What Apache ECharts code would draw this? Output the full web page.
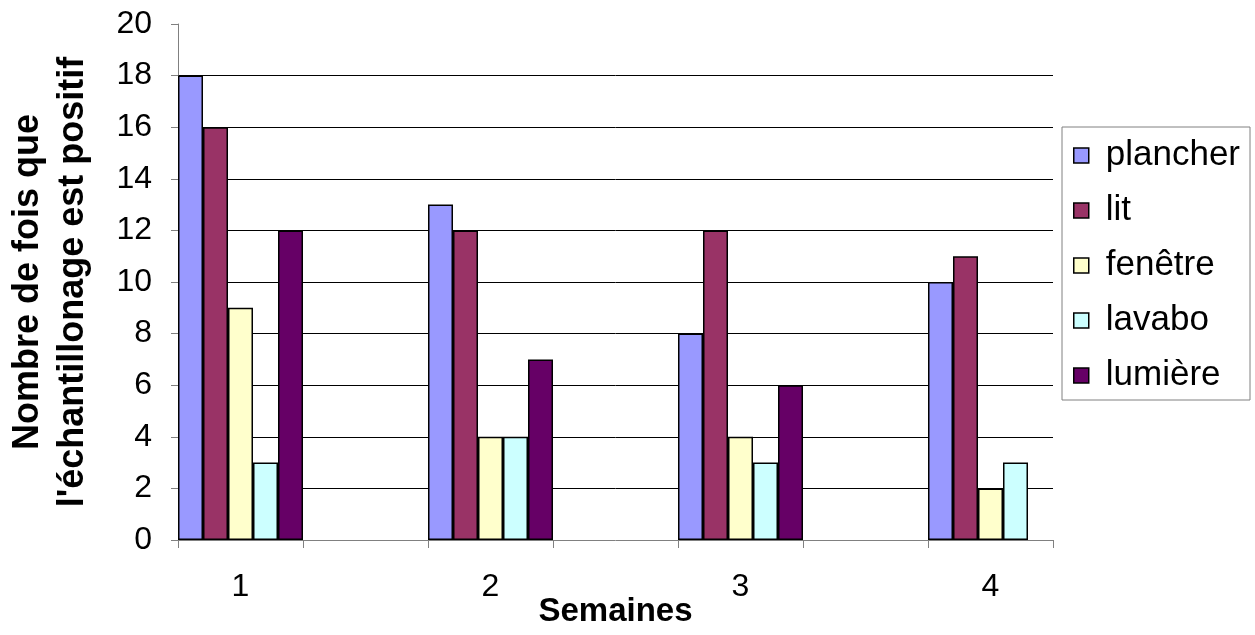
<!DOCTYPE html>
<html>
<head>
<meta charset="utf-8">
<script src="https://cdn.jsdelivr.net/npm/echarts@6/dist/echarts.min.js"></script>
<style>
    html, body { margin: 0; padding: 0; background: #fff; }
    #chart_content { width: 1255px; height: 635px; }
</style>
</head>
<body>
<div id="chart_content"></div>
<script>
// semaines (une case vide entre chaque semaine dans le graphique d'origine)
var weeks = ['1', '2', '3', '4'];
var series_names = ['plancher', 'lit', 'fenêtre', 'lavabo', 'lumière'];
var plancher = [18, 13, 8, 10];
var lit = [16, 12, 12, 11];
var fenetre = [9, 4, 4, 2];
var lavabo = [3, 4, 3, 3];
var lumiere = [12, 7, 6, null];
var y_ticks = [0, 2, 4, 6, 8, 10, 12, 14, 16, 18, 20];
var colors = ['#9999FF', '#993366', '#FFFFCC', '#CCFFFF', '#660066'];

var FONT = '"Liberation Sans", Arial, sans-serif';

// categories: 1, '', 2, '', 3, '', 4
var categories = [];
for (var i = 0; i < weeks.length; i++) {
    if (i > 0) categories.push('');
    categories.push(weeks[i]);
}
function spread(values) {
    var out = [];
    for (var i = 0; i < values.length; i++) {
        if (i > 0) out.push(null);
        out.push(values[i]);
    }
    return out;
}

var all_values = [plancher, lit, fenetre, lavabo, lumiere];
var series = [];
for (var s = 0; s < series_names.length; s++) {
    series.push({
        name: series_names[s],
        type: 'bar',
        barGap: 0,
        barCategoryGap: 0,
        itemStyle: {
            color: colors[s],
            borderColor: '#000',
            borderWidth: 1.5
        },
        data: spread(all_values[s])
    });
}

var chart = echarts.init(document.getElementById('chart_content'));
var option = {
    animation: false,
    textStyle: { fontFamily: FONT },
    grid: {
        left: 178,
        right: 202,
        top: 24,
        bottom: 95,
        containLabel: false,
        outerBoundsMode: 'none'
    },
    legend: {
        orient: 'vertical',
        left: 1062,
        top: 127,
        padding: [11, 10, 7, 11],
        itemGap: 20,
        itemWidth: 15,
        itemHeight: 15,
        borderColor: '#808080',
        borderWidth: 1,
        icon: 'rect',
        itemStyle: { borderColor: '#000', borderWidth: 1.5 },
        textStyle: { fontFamily: FONT, fontSize: 35, color: '#000', padding: [0, 0, 0, 12] },
        data: series_names
    },
    xAxis: {
        type: 'category',
        data: categories,
        name: 'Semaines',
        nameLocation: 'middle',
        nameGap: 55,
        nameMoveOverlap: false,
        nameTextStyle: { fontFamily: FONT, fontSize: 33, fontWeight: 'bold', color: '#000' },
        axisLine: { lineStyle: { color: '#808080', width: 1 } },
        axisTick: { show: true, interval: 0, length: 8, lineStyle: { color: '#808080' } },
        axisLabel: { interval: 0, margin: 31, fontFamily: FONT, fontSize: 32, color: '#000' },
        splitLine: { show: false }
    },
    yAxis: {
        type: 'value',
        min: y_ticks[0],
        max: y_ticks[y_ticks.length - 1],
        interval: y_ticks[1] - y_ticks[0],
        name: 'Nombre de fois que\nl\'échantillonage est positif',
        nameLocation: 'middle',
        nameGap: 82,
        nameMoveOverlap: false,
        nameTextStyle: { fontFamily: FONT, fontSize: 36, fontWeight: 'bold', color: '#000', lineHeight: 45 },
        axisLine: { show: true, lineStyle: { color: '#808080', width: 1 } },
        axisTick: { show: true, length: 7, lineStyle: { color: '#808080' } },
        axisLabel: { margin: 26, fontFamily: FONT, fontSize: 32, color: '#000' },
        splitLine: { show: true, showMinLine: false, showMaxLine: false, lineStyle: { color: '#000', width: 1 } }
    },
    series: series
};
chart.setOption(option, true);
</script>
</body>
</html>
